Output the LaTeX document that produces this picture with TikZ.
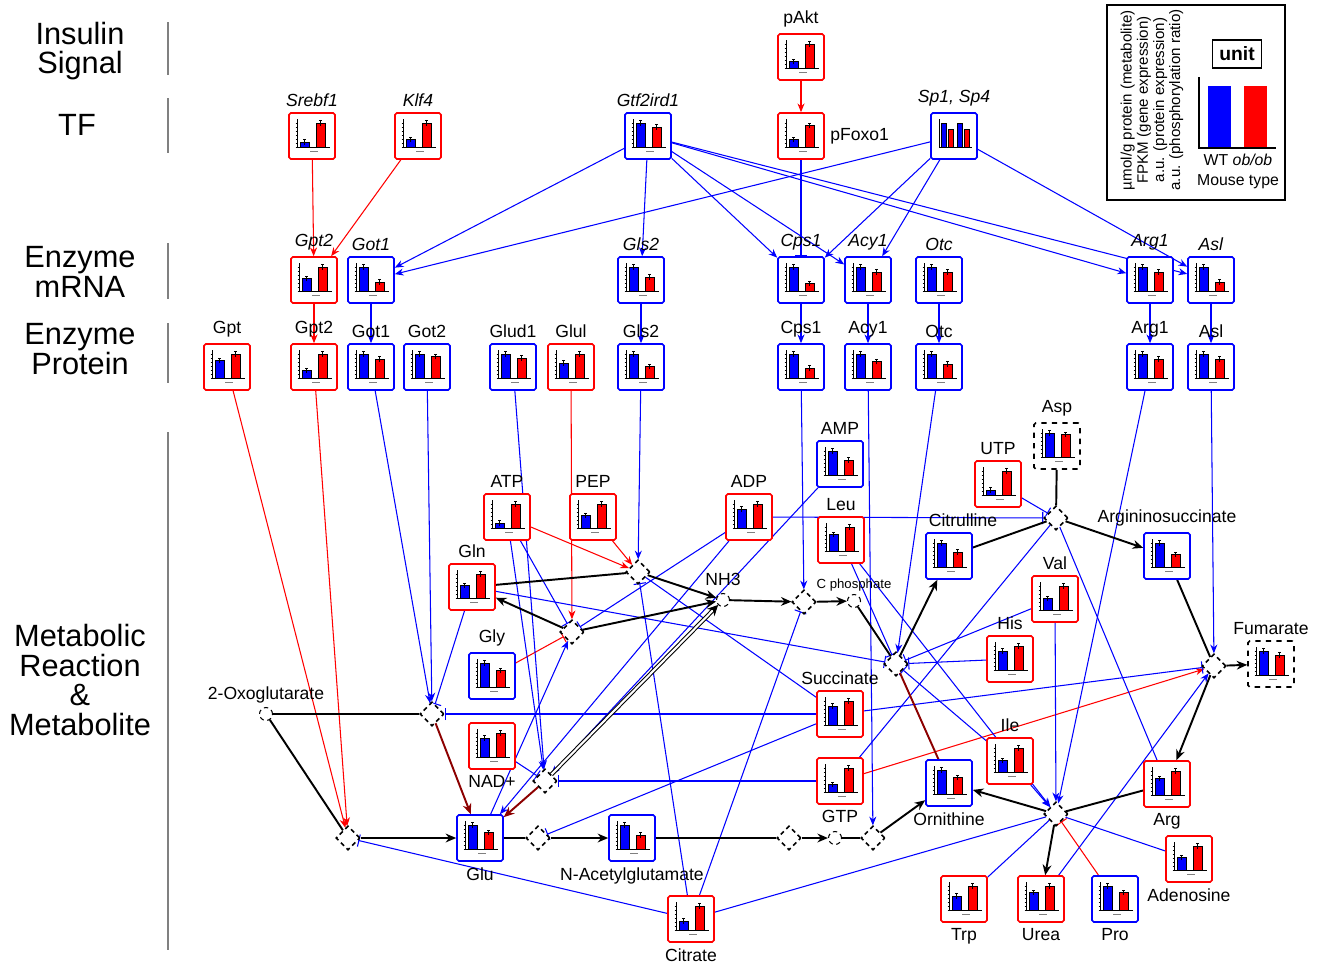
\documentclass[tikz,border=0pt]{standalone}
\usepackage{fontspec}
\setmainfont{Liberation Sans}
\usetikzlibrary{arrows.meta,shapes.geometric,backgrounds,positioning}

% box with a small WT / ob/ob bar chart inside
\newcommand{\chart}[5]{%
  \node[#2] (#1) at (#3) {};
  \begin{scope}[shift={(#1.center)},x=0.02cm,y=0.02cm]
    \foreach \t in {-11,-7,...,15} \draw[line width=.15pt] (-16.5,\t) -- (-15,\t);
    \draw[line width=.3pt] (-15,17) -- (-15,-11) -- (18,-11);
    \filldraw[fill=blue,line width=.4pt] (-12,-11) rectangle (-3,{-11+25*#4});
    \filldraw[fill=red,line width=.4pt] (4,-11) rectangle (13,{-11+25*#5});
    \draw[line width=.5pt] (-7.5,{-13.5+25*#4}) -- ++(0,5) ++(-1.5,0) -- ++(3,0);
    \draw[line width=.5pt] (8.5,{-13.5+25*#5}) -- ++(0,5) ++(-1.5,0) -- ++(3,0);
    \fill[gray] (-2,-15.5) rectangle (6,-14.5);
  \end{scope}}

\begin{document}
\begin{tikzpicture}[x=0.02cm,y=-0.02cm,
  box/.style={draw,rounded corners=1pt,line width=0.9pt,minimum size=0.92cm,inner sep=0pt,fill=white},
  redbox/.style={box,draw=red},
  bluebox/.style={box,draw=blue},
  dashbox/.style={box,draw=black,dashed},
  rxn/.style={diamond,draw,dash pattern=on 2.5pt off 2pt,line width=0.9pt,minimum size=0.48cm,inner sep=0pt,fill=white},
  met/.style={circle,draw,dash pattern=on 2.5pt off 2pt,line width=0.6pt,minimum size=0.26cm,inner sep=0pt,fill=white},
  every label/.style={font=\fontsize{10}{11}\selectfont,inner sep=1pt},
  label distance=2pt,
  act/.style={blue,line width=0.6pt,-{Stealth[length=5pt,width=4pt]}},
  inh/.style={blue,line width=0.6pt,-{Bar[width=7pt]}},
  lin/.style={blue,line width=0.6pt},
  ract/.style={red,line width=0.6pt,-{Stealth[length=5pt,width=4pt]}},
  rinh/.style={red,line width=0.6pt,-{Bar[width=7pt]}},
  flow/.style={black,line width=1.1pt},
  flowto/.style={flow,-{Stealth[length=6pt,width=5pt]}},
  dflow/.style={red!55!black,line width=1.1pt},
  rowname/.style={font=\fontsize{17.5}{17}\selectfont,align=center}]
\useasboundingbox (0,0) rectangle (1318,967);

% row names
\node[rowname] (insulin) at (80,51) {Insulin\\Signal};
\node[rowname] (tf) at (77,125) {TF};
\node[rowname] (mrna) at (80,272) {Enzyme\\mRNA};
\node[rowname] (protein) at (80,349) {Enzyme\\Protein};
\node[rowname] (metab) at (80,680) {Metabolic\\Reaction\\\&\\Metabolite};
\foreach \ya/\yb in {22/75,98/153,243/299,323/383,432/950}
  \draw[gray,line width=1pt] (168,\ya) -- (168,\yb);

% legend
\draw[line width=0.7pt] (1107,5) rectangle (1285,200);
\node[rotate=90,align=center,font=\fontsize{8.6}{9.2}\selectfont] (units) at (1152,100)
  {µmol/g protein (metabolite)\\FPKM (gene expression)\\a.u. (protein expression)\\a.u. (phosphorylation ratio)};
\node[draw,line width=0.7pt,font=\bfseries\fontsize{11}{12}\selectfont,minimum width=0.98cm,minimum height=0.56cm,inner sep=0pt] (unit) at (1237,54) {unit};
\fill[blue] (1208,86) rectangle (1231,148);
\fill[red] (1244,86) rectangle (1267,148);
\draw[line width=0.8pt] (1199,77) -- (1199,148) -- (1276,148);
\node[align=center,font=\fontsize{9}{11.3}\selectfont] (mouse) at (1238,171) {WT \textit{ob/ob}\\Mouse type};

% signal and TF
\chart{pakt}{redbox,label=above:pAkt}{801,57}{.25}{.95}
\chart{srebf}{redbox,label=above:\textit{Srebf1}}{312,136}{.2}{.95}
\chart{klf}{redbox,label=above:\textit{Klf4}}{418,136}{.3}{.95}
\chart{gtf}{bluebox,label=above:\textit{Gtf2ird1}}{648,136}{.95}{.8}
\chart{pfoxo}{redbox,label=right:pFoxo1}{801,136}{.3}{.85}
\node[bluebox,label={above:\textit{Sp1, Sp4}}] (sp) at (954,136) {};
\begin{scope}[shift={(sp.center)},x=0.02cm,y=0.02cm]
  \draw[line width=.3pt] (-15,17) -- (-15,-11) -- (18,-11);
  \foreach \xa/\h/\c in {-13/.95/blue,-6/.7/red,3/.95/blue,10/.7/red}
    \filldraw[fill=\c,line width=.4pt] (\xa,-11) rectangle (\xa+5,{-11+25*\h});
\end{scope}

% enzyme mRNA
\chart{mgpttwo}{redbox,label=above:\textit{Gpt2}}{314,280}{.5}{.95}
\chart{mgotone}{bluebox,label=above:\textit{Got1}}{371,280}{.95}{.35}
\chart{mglstwo}{bluebox,label=above:\textit{Gls2}}{641,280}{.95}{.55}
\chart{mcps}{bluebox,label=above:\textit{Cps1}}{801,280}{.95}{.3}
\chart{macy}{bluebox,label=above:\textit{Acy1}}{868,280}{.95}{.75}
\chart{motc}{bluebox,label=above:\textit{Otc}}{939,280}{.95}{.75}
\chart{marg}{bluebox,label=above:\textit{Arg1}}{1150,280}{.95}{.75}
\chart{masl}{bluebox,label=above:\textit{Asl}}{1211,280}{.95}{.35}

% enzyme protein
\chart{pgpt}{redbox,label=above:Gpt}{227,367}{.7}{.95}
\chart{pgpttwo}{redbox,label=above:Gpt2}{314,367}{.3}{.95}
\chart{pgotone}{bluebox,label=above:Got1}{371,367}{.95}{.75}
\chart{pgottwo}{bluebox,label=above:Got2}{427,367}{.95}{.85}
\chart{pglud}{bluebox,label=above:Glud1}{513,367}{.95}{.8}
\chart{pglul}{redbox,label=above:Glul}{571,367}{.6}{.95}
\chart{pglstwo}{bluebox,label=above:Gls2}{641,367}{.95}{.45}
\chart{pcps}{bluebox,label=above:Cps1}{801,367}{.95}{.4}
\chart{pacy}{bluebox,label=above:Acy1}{868,367}{.95}{.65}
\chart{potc}{bluebox,label=above:Otc}{939,367}{.95}{.55}
\chart{parg}{bluebox,label=above:Arg1}{1150,367}{.95}{.75}
\chart{pasl}{bluebox,label=above:Asl}{1211,367}{.95}{.75}

% metabolites
\chart{amp}{bluebox,label=above:AMP}{840,464}{.95}{.6}
\chart{asp}{dashbox,label=above:Asp}{1057,446}{.95}{.9}
\chart{utp}{redbox,label=above:UTP}{998,484}{.2}{.95}
\chart{atp}{redbox,label=above:ATP}{507,517}{.2}{.95}
\chart{pep}{redbox,label=above:PEP}{593,517}{.5}{.95}
\chart{adp}{redbox,label=above:ADP}{749,517}{.75}{.95}
\chart{leu}{redbox,label=above:Leu}{841,540}{.65}{.95}
\chart{citr}{bluebox,label={[xshift=0.28cm]above:Citrulline}}{949,556}{.95}{.6}
\chart{asuc}{bluebox,label=above:Argininosuccinate}{1167,556}{.95}{.5}
\chart{gln}{redbox,label=above:Gln}{472,587}{.5}{.95}
\chart{val}{redbox,label=above:Val}{1055,599}{.45}{.95}
\chart{gly}{bluebox,label=above:Gly}{492,676}{.95}{.65}
\chart{his}{redbox,label=above:His}{1010,659}{.75}{.95}
\chart{fum}{dashbox,label=above:Fumarate}{1271,664}{.95}{.8}
\chart{succ}{redbox,label=above:Succinate}{840,714}{.75}{.95}
\chart{nad}{redbox,label=below:NAD+}{492,746}{.75}{.95}
\chart{ile}{redbox,label=above:Ile}{1010,761}{.45}{.95}
\chart{gtp}{redbox,label=below:GTP}{840,781}{.3}{.95}
\chart{orn}{bluebox,label=below:Ornithine}{949,783}{.95}{.65}
\chart{arg}{redbox,label=below:Arg}{1167,784}{.65}{.95}
\chart{glu}{bluebox,label=below:Glu}{480,838}{.95}{.65}
\chart{nag}{bluebox,label=below:N-Acetylglutamate}{632,838}{.95}{.55}
\chart{adeno}{redbox,label=below:Adenosine}{1189,859}{.5}{.95}
\chart{trp}{redbox,label=below:Trp}{964,899}{.55}{.95}
\chart{urea}{redbox,label=below:Urea}{1041,899}{.7}{.95}
\chart{pro}{bluebox,label=below:Pro}{1115,899}{.95}{.7}
\chart{citrate}{redbox,label=below:Citrate}{691,919}{.35}{.95}

\node[met,label={[label distance=1pt]above:2-Oxoglutarate}] (oxo) at (266,714) {};
\node[met,label={[label distance=3pt]above:NH3}] (nh) at (723,600) {};
\node[met,label={[label distance=0.5pt,font=\fontsize{7.5}{9}\selectfont]above:C phosphate}] (cp) at (854,601) {};
\node[met] (gc) at (835,838) {};

% reactions
\node[rxn] (r1) at (638,572) {};
\node[rxn] (r2) at (572,632) {};
\node[rxn] (r3) at (804,602) {};
\node[rxn] (r4) at (432,714) {};
\node[rxn] (r5) at (896,664) {};
\node[rxn] (r6) at (1056,518) {};
\node[rxn] (r7) at (1214,666) {};
\node[rxn] (r8) at (545,781) {};
\node[rxn] (r9) at (348,838) {};
\node[rxn] (r10) at (538,838) {};
\node[rxn] (r11) at (789,838) {};
\node[rxn] (r12) at (873,838) {};
\node[rxn] (r13) at (1056,814) {};

\begin{scope}[on background layer]
  \foreach \from/\to in {pakt/pfoxo,srebf/mgpttwo,klf/mgpttwo,mgpttwo/pgpttwo,pgpt/r9,pgpttwo/r9,
      pglul/r2,atp/r1,pep/r1,gtp/r7}
    \draw[ract] (\from) -- (\to);
  \foreach \from/\to in {gly/r2,pro/r13}
    \draw[rinh] (\from) -- (\to);
  \foreach \from/\to in {gtf/mgotone,sp/mgotone,gtf/mglstwo,gtf/mcps,gtf/macy,gtf/marg,gtf/masl,
      sp/mcps,sp/macy,sp/masl,mgotone/pgotone,mglstwo/pglstwo,mcps/pcps,macy/pacy,motc/potc,
      marg/parg,masl/pasl,pgotone/r4,pgottwo/r4,pglud/r8,pglstwo/r1,pcps/r3,pacy/r12,potc/r5,
      parg/r13,pasl/r7,atp/r8,amp/r8,adp/glu,urea/r7,val/r13,leu/r13,ile/r13,glu/r2}
    \draw[act] (\from) -- (\to);
  \foreach \from/\to in {pfoxo/mcps,gln/r5,gln/r4,succ/r4,gtp/r8,nad/r8,citrate/r9,succ/r10,
      adp/r2,atp/r2,adp/r6,utp/r6,his/r5,val/r5,leu/r5,succ/r7,citrate/r1,citrate/r3,ile/r5}
    \draw[inh] (\from) -- (\to);
  \foreach \from/\to in {succ/r1,r6/gtp,r6/arg,citrate/r13,adeno/r13,trp/r13}
    \draw[lin] (\from) -- (\to);
  \foreach \from/\to in {oxo/r4,oxo/r9,glu/r10,nag/r11,gc/r12,gln/r1,cp/r5,citr/r6,asp/r6,
      asuc/r7,arg/r13}
    \draw[flow] (\from) -- (\to);
  \foreach \from/\to in {r9/glu,r10/nag,r11/gc,r12/orn,r1/nh,r2/gln,r2/nh,nh/r3,r3/cp,r5/citr,
      r6/asuc,r7/fum,r7/arg,r13/orn,r13/urea}
    \draw[flowto] (\from) -- (\to);
  \draw[dflow,-{Stealth[length=6pt,width=5pt]}] (r4) -- (glu);
  \draw[dflow,-{Stealth[length=6pt,width=5pt]}] (r8) -- (glu);
  \draw[dflow] (r5) -- (orn);
  \draw[black,line width=0.6pt,double distance=1.2pt,-{Stealth[length=6pt,width=6pt]}] (r8) -- (nh);
\end{scope}
\end{tikzpicture}
\end{document}
